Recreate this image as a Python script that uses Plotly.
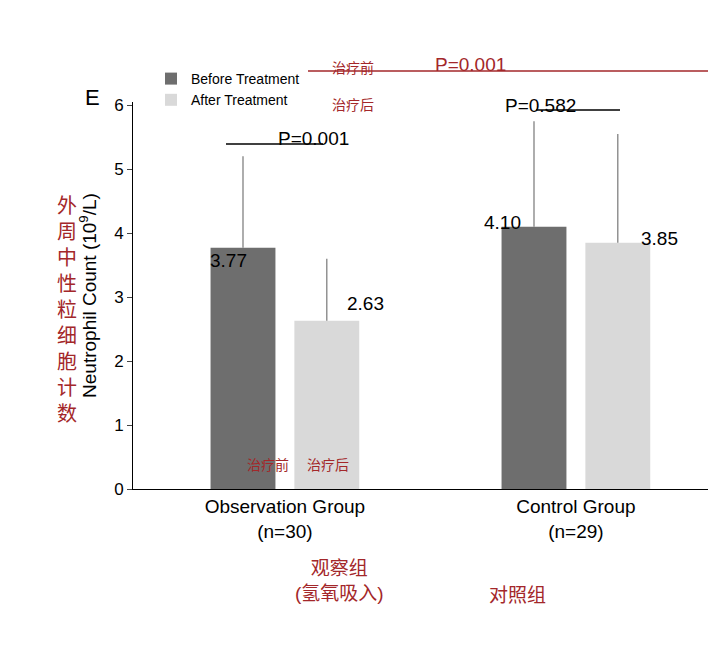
import plotly.graph_objects as go

groups = ["Observation Group<br>(n=30)", "Control Group<br>(n=29)"]
series = ["Before Treatment", "After Treatment"]
before = [3.77, 4.10]
after = [2.63, 3.85]
before_sd = [1.43, 1.65]
after_sd = [0.97, 1.70]
colors = ["#6e6e6e", "#d9d9d9"]
red = "#a3272a"

W, H = 720, 653
L, R, T, B = 125, 20, 94, 172


def px(x):
    return (x - L) / (W - L - R)


def py_(y):
    return (H - B - y) / (H - T - B)


offset = 0.144
width = 0.223
fig = go.Figure()
for vals, sd, name, col, sgn in [(before, before_sd, series[0], colors[0], -1),
                                 (after, after_sd, series[1], colors[1], 1)]:
    fig.add_trace(go.Bar(
        x=[i + sgn * offset for i in range(len(groups))], y=vals, width=width,
        name=name, marker=dict(color=col, line=dict(width=0)),
        error_y=dict(type="data", array=sd, symmetric=False, arrayminus=[0] * len(sd),
                     color="#777777", thickness=1.2, width=0),
    ))

ann = [
    dict(x=px(75), y=py_(75), text="E", size=22, color="black"),
    dict(x=px(268), y=py_(118), text="P=0.001", size=19, color="black"),
    dict(x=px(570), y=py_(85), text="P=0.582", size=19, color="black"),
    dict(x=px(462), y=py_(44), text="P=0.001", size=19, color=red),
    dict(x=px(345), y=py_(50), text="治疗前", size=14, color=red),
    dict(x=px(345), y=py_(87), text="治疗后", size=14, color=red),
    dict(x=px(200), y=py_(252), text="3.77", size=19, color="black"),
    dict(x=px(357), y=py_(295), text="2.63", size=19, color="black"),
    dict(x=px(495), y=py_(202), text="4.10", size=19, color="black"),
    dict(x=px(672), y=py_(218), text="3.85", size=19, color="black"),
    dict(x=px(237), y=py_(467), text="治疗前", size=14, color=red),
    dict(x=px(320), y=py_(467), text="治疗后", size=14, color=red),
    dict(x=px(285), y=py_(598), text="观察组<br>(氢氧吸入)", size=19, color=red),
    dict(x=px(540), y=py_(600), text="对照组", size=19, color=red),
    dict(x=px(47), y=py_(302), text="<br>".join("外周中性粒细胞计数"), size=20, color=red),
]
for a in ann:
    fig.add_annotation(x=a["x"], y=a["y"], xref="paper", yref="paper", text=a["text"],
                       showarrow=False, font=dict(size=a["size"], color=a["color"]))

for x0, x1, y, col in [(218, 315, 136, "black"), (528, 612, 102, "black"), (300, 700, 63, red)]:
    fig.add_shape(type="line", xref="paper", yref="paper", x0=px(x0), x1=px(x1),
                  y0=py_(y), y1=py_(y), line=dict(color=col, width=1.5))

fig.update_layout(
    width=W, height=H, margin=dict(l=L, r=R, t=T, b=B),
    paper_bgcolor="white", plot_bgcolor="white",
    font=dict(family="Liberation Sans, Noto Sans CJK SC, sans-serif", color="black"),
    legend=dict(x=px(143), y=py_(55), xanchor="left", yanchor="top",
                font=dict(size=14), bgcolor="rgba(0,0,0,0)", itemwidth=30, tracegroupgap=4),
    xaxis=dict(range=[-0.522, -0.522 + (W - L - R) / 291], tickvals=list(range(len(groups))),
               ticktext=groups, tickfont=dict(size=19), showline=True, linecolor="black",
               ticks="", showgrid=False, zeroline=False, automargin=False),
    yaxis=dict(range=[0, 6.05], dtick=1, showline=True, linecolor="black", ticks="outside",
               tickfont=dict(size=17), showgrid=False, zeroline=False, automargin=False,
               title=dict(text="Neutrophil Count (10<sup>9</sup>/L)", font=dict(size=19), standoff=12)),
)
fig.write_html("out.html")
